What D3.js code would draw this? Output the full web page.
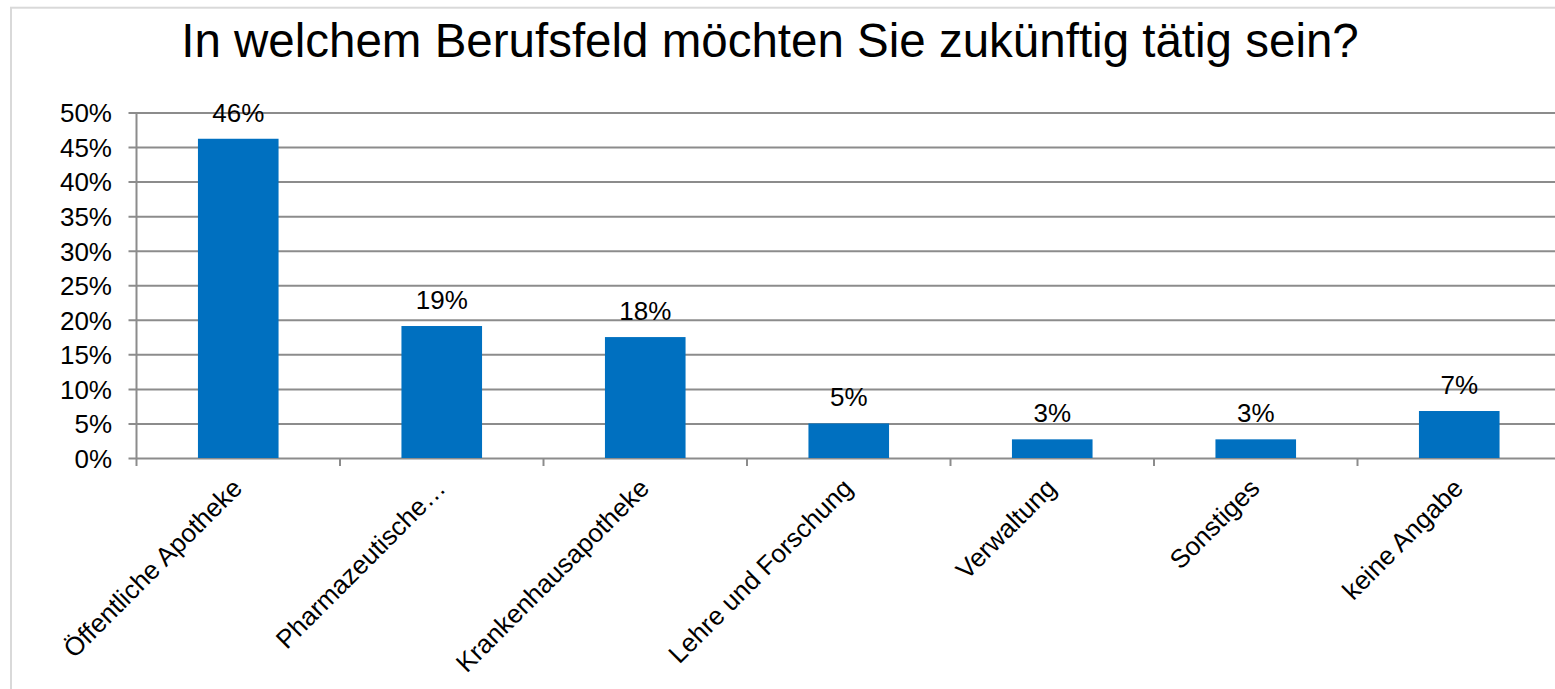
<!DOCTYPE html>
<html>
<head>
<meta charset="utf-8">
<script src="https://cdn.jsdelivr.net/npm/d3@7"></script>
<style>
  body { margin: 0; background: #fff; }
  svg text { font-family: "Liberation Sans", Arial, sans-serif; fill: #000; }
</style>
</head>
<body>
<svg id="chart" width="1555" height="689"></svg>
<script>
// data
const categories = ["Öffentliche Apotheke", "Pharmazeutische…", "Krankenhausapotheke",
  "Lehre und Forschung", "Verwaltung", "Sonstiges", "keine Angabe"];
const shares = [46.2, 19.1, 17.5, 5.0, 2.7, 2.7, 6.8];
const valueLabels = ["46%", "19%", "18%", "5%", "3%", "3%", "7%"];
const yTicks = [0, 5, 10, 15, 20, 25, 30, 35, 40, 45, 50];
const title = "In welchem Berufsfeld möchten Sie zukünftig tätig sein?";

var svg = d3.select("#chart"),
    margin = {top: 112.5, left: 136.5, bottom: 231},
    bandW = 203.5,
    width = bandW * categories.length,
    height = 689 - margin.top - margin.bottom;

// outer frame
svg.append("rect")
    .attr("x", 11).attr("y", 7.7)
    .attr("width", 1600).attr("height", 700)
    .style("fill", "none")
    .style("stroke", "#d9d9d9")
    .style("stroke-width", 2);

svg.append("text")
    .attr("x", 770)
    .attr("y", 57)
    .attr("text-anchor", "middle")
    .style("font-size", "47.5px")
    .text(title);

var x = d3.scaleBand().domain(categories).range([0, width]).paddingInner(0).paddingOuter(0),
    y = d3.scaleLinear().domain([0, 50]).range([height, 0]);

var g = svg.append("g")
    .attr("transform", "translate(" + margin.left + "," + margin.top + ")");

// grid + y axis
var yAxis = g.append("g")
    .call(d3.axisLeft(y).tickValues(yTicks).tickSize(-(1555 - margin.left)).tickSizeOuter(0)
        .tickFormat(d => d + "%").tickPadding(24.5));
yAxis.select(".domain").remove();
yAxis.selectAll(".tick line")
    .attr("x1", -8)
    .style("stroke", "#8c8c8c")
    .style("stroke-width", 2);
yAxis.selectAll(".tick text")
    .style("font-size", "26px")
    .attr("dy", "0.36em");

g.append("line")
    .attr("x1", 0).attr("x2", 0)
    .attr("y1", 0).attr("y2", height)
    .style("stroke", "#8c8c8c")
    .style("stroke-width", 2);

// category ticks on the band edges
g.selectAll("line.catTick")
    .data(categories)
    .enter()
    .append("line")
    .attr("class", "catTick")
    .attr("x1", d => x(d)).attr("x2", d => x(d))
    .attr("y1", height).attr("y2", height + 8)
    .style("stroke", "#8c8c8c")
    .style("stroke-width", 2);

// bars
var barW = 80.6;
g.selectAll("rect.bar")
    .data(shares)
    .enter()
    .append("rect")
    .attr("class", "bar")
    .attr("x", (d, i) => x(categories[i]) + (x.bandwidth() - barW) / 2)
    .attr("y", d => y(d))
    .attr("width", barW)
    .attr("height", d => height - y(d))
    .style("fill", "#0070C0");

// value labels
g.selectAll("text.val")
    .data(shares)
    .enter()
    .append("text")
    .attr("class", "val")
    .attr("x", (d, i) => x(categories[i]) + x.bandwidth() / 2)
    .attr("y", d => y(d) - 17)
    .attr("text-anchor", "middle")
    .style("font-size", "26px")
    .text((d, i) => valueLabels[i]);

// rotated category labels
g.selectAll("text.cat")
    .data(categories)
    .enter()
    .append("text")
    .attr("class", "cat")
    .attr("text-anchor", "end")
    .attr("transform", d => "translate(" + (x(d) + x.bandwidth() / 2 - 7.5) + "," + (height + 19) + ")rotate(-45)")
    .attr("dy", "0.7em")
    .style("font-size", "26px")
    .text(d => d);
</script>
</body>
</html>
